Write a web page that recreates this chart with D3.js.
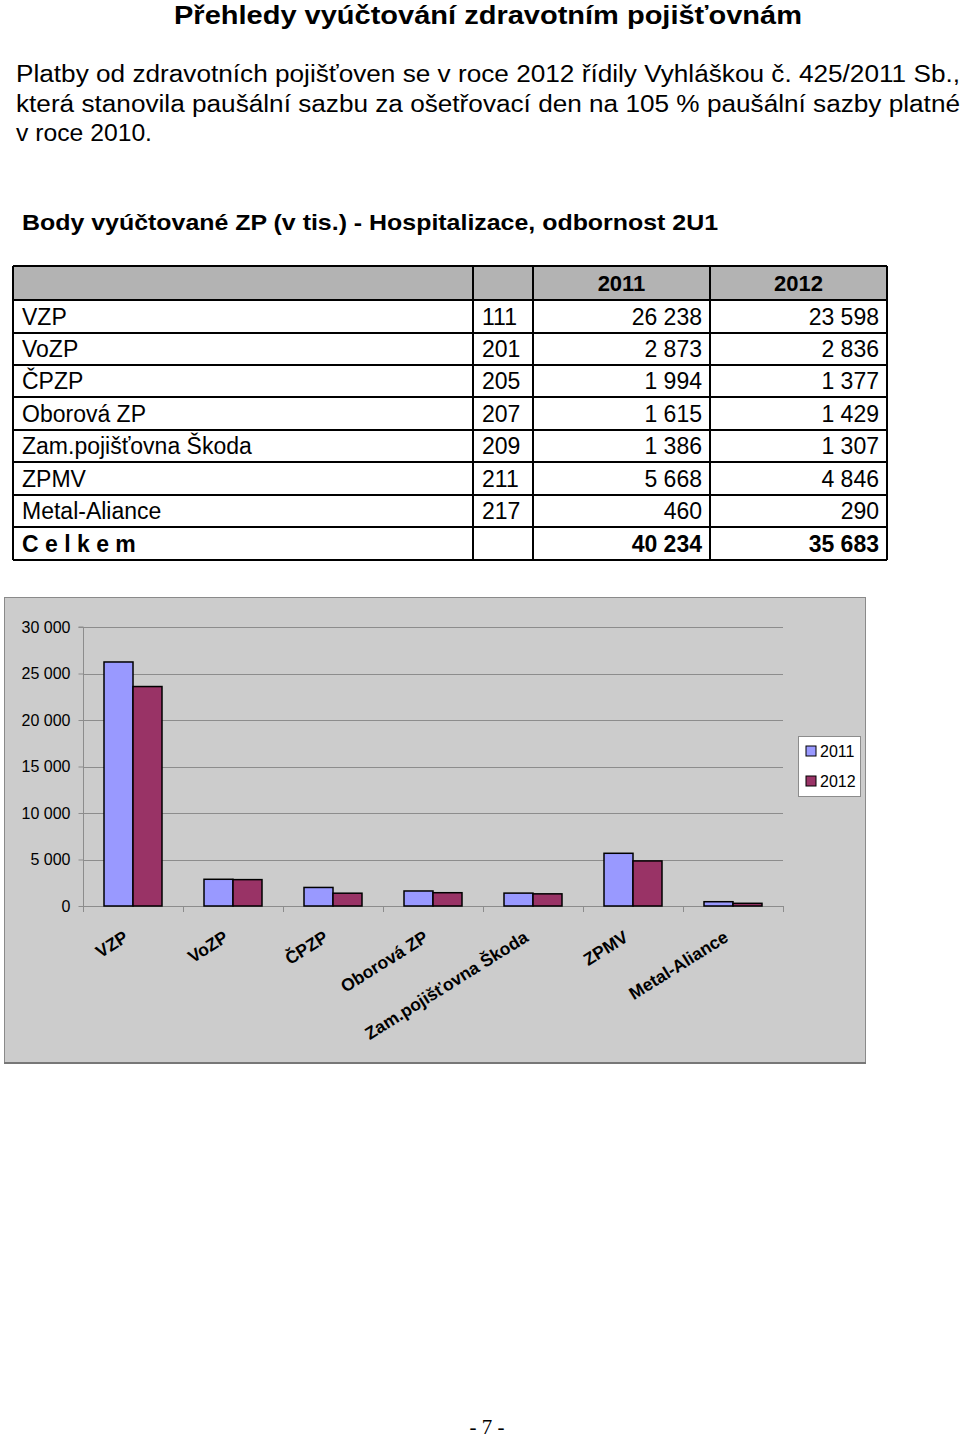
<!DOCTYPE html>
<html><head><meta charset="utf-8">
<script src="https://cdn.jsdelivr.net/npm/d3@7"></script>
<style>body{margin:0;background:#fff}svg{display:block}</style>
</head><body>
<script>
const categories = ["VZP","VoZP","ČPZP","Oborová ZP","Zam.pojišťovna Škoda","ZPMV","Metal-Aliance"];
const codes = ["111","201","205","207","209","211","217"];
const values2011 = [26238,2873,1994,1615,1386,5668,460];
const values2012 = [23598,2836,1377,1429,1307,4846,290];
const totals = [40234,35683];
const seriesNames = ["2011","2012"];
const yTicks = [0,5000,10000,15000,20000,25000,30000];
const colors = ["#9999ff","#993366"];

const W=960,H=1440,F="'Liberation Sans', Arial, sans-serif";
const svg=d3.select("body").append("svg").attr("width",W).attr("height",H).style("font-family",F);
const fmt = v => d3.format(",")(v).replace(/,/g," ");

// Title and paragraph
svg.append("text").attr("x",174).attr("y",24).attr("font-size",26).attr("font-weight","bold")
  .attr("textLength",628).attr("lengthAdjust","spacingAndGlyphs").text("Přehledy vyúčtování zdravotním pojišťovnám");
const para=[
 ["Platby od zdravotních pojišťoven se v roce 2012 řídily Vyhláškou č. 425/2011 Sb.,",82,944],
 ["která stanovila paušální sazbu za ošetřovací den na 105 % paušální sazby platné",112,944],
 ["v roce 2010.",141,136]];
para.forEach(p=>svg.append("text").attr("x",16).attr("y",p[1]).attr("font-size",23)
  .attr("textLength",p[2]).attr("lengthAdjust","spacingAndGlyphs").text(p[0]));
svg.append("text").attr("x",22).attr("y",230).attr("font-size",22).attr("font-weight","bold")
  .attr("textLength",696).attr("lengthAdjust","spacingAndGlyphs").text("Body vyúčtované ZP (v tis.) - Hospitalizace, odbornost 2U1");

// Table
const colX=[13,473,533,710,887];
const rowY=[266,300,333,365,397,430,462,495,527,560];
svg.append("rect").attr("x",colX[0]).attr("y",rowY[0]).attr("width",colX[4]-colX[0]).attr("height",rowY[1]-rowY[0]).attr("fill","#b3b3b3");
const tg=svg.append("g");
rowY.forEach(y=>tg.append("line").attr("x1",colX[0]).attr("x2",colX[4]).attr("y1",y).attr("y2",y).attr("stroke","#000").attr("stroke-width",2));
colX.forEach(x=>tg.append("line").attr("x1",x).attr("x2",x).attr("y1",rowY[0]).attr("y2",rowY[9]).attr("stroke","#000").attr("stroke-width",2));
const hdrY=(rowY[0]+rowY[1])/2+8;
seriesNames.forEach((s,i)=>tg.append("text").attr("x",(colX[i+2]+colX[i+3])/2).attr("y",hdrY)
  .attr("text-anchor","middle").attr("font-size",22).attr("font-weight","bold").text(s));
categories.forEach((c,i)=>{
  const y=(rowY[i+1]+rowY[i+2])/2+8;
  tg.append("text").attr("x",22).attr("y",y).attr("font-size",23).text(c);
  tg.append("text").attr("x",482).attr("y",y).attr("font-size",23).text(codes[i]);
  tg.append("text").attr("x",702).attr("y",y).attr("text-anchor","end").attr("font-size",23).text(fmt(values2011[i]));
  tg.append("text").attr("x",879).attr("y",y).attr("text-anchor","end").attr("font-size",23).text(fmt(values2012[i]));
});
{
  const y=(rowY[8]+rowY[9])/2+8;
  tg.append("text").attr("x",22).attr("y",y).attr("font-size",23).attr("font-weight","bold").text("C e l k e m");
  tg.append("text").attr("x",702).attr("y",y).attr("text-anchor","end").attr("font-size",23).attr("font-weight","bold").text(fmt(totals[0]));
  tg.append("text").attr("x",879).attr("y",y).attr("text-anchor","end").attr("font-size",23).attr("font-weight","bold").text(fmt(totals[1]));
}

// Chart
svg.append("rect").attr("x",4.5).attr("y",597.5).attr("width",861).attr("height",466).attr("fill","#cccccc").attr("stroke","#8a8a8a").attr("stroke-width",1);
svg.append("line").attr("x1",4).attr("x2",866).attr("y1",1063).attr("y2",1063).attr("stroke","#777").attr("stroke-width",2);
const L=83,R=783,T=627,B=906;
const y=d3.scaleLinear().domain([0,30000]).range([B,T]);
const x0=d3.scaleBand().domain(categories).range([L,R]).paddingInner(0.42).paddingOuter(0.21);
const x1=d3.scaleBand().domain(seriesNames).range([0,x0.bandwidth()]);
const step=x0.step();
// gridlines
svg.append("g").selectAll("line").data(yTicks.filter(d=>d>0)).join("line")
  .attr("x1",L).attr("x2",R).attr("y1",d=>Math.round(y(d))+0.5).attr("y2",d=>Math.round(y(d))+0.5).attr("stroke","#8c8c8c");
// y axis
const ya=svg.append("g").attr("transform",`translate(${L+0.5},0)`)
  .call(d3.axisLeft(y).tickValues(yTicks).tickFormat(fmt).tickSize(5).tickPadding(8));
ya.select(".domain").attr("stroke","#8c8c8c").attr("d",`M-5,${T}H0V${B}`);
ya.selectAll(".tick line").attr("stroke","#8c8c8c");
ya.selectAll("text").attr("font-size",16).attr("font-family",F).attr("fill","#000");
// x axis
svg.append("line").attr("x1",L).attr("x2",R).attr("y1",B+0.5).attr("y2",B+0.5).attr("stroke","#8c8c8c");
svg.append("g").selectAll("line").data(d3.range(categories.length+1)).join("line")
  .attr("x1",i=>L+i*step+0.5).attr("x2",i=>L+i*step+0.5).attr("y1",B).attr("y2",B+6).attr("stroke","#8c8c8c");
// bars
const data=categories.map((c,i)=>({c,vals:[values2011[i],values2012[i]]}));
svg.append("g").selectAll("g").data(data).join("g").attr("transform",d=>`translate(${x0(d.c)},0)`)
  .selectAll("rect").data(d=>d.vals.map((v,j)=>({v,s:seriesNames[j],j}))).join("rect")
  .attr("x",d=>x1(d.s)).attr("y",d=>y(d.v)).attr("width",x1.bandwidth()).attr("height",d=>B-y(d.v))
  .attr("fill",d=>colors[d.j]).attr("stroke","#000").attr("stroke-width",1.5);
// x labels
svg.append("g").selectAll("text").data(categories).join("text")
  .attr("transform",d=>`translate(${x0(d)+x0.bandwidth()/2-10},${B+24}) rotate(-32)`)
  .attr("text-anchor","end").attr("dy","0.7em").attr("font-size",17.5).attr("font-weight","bold").text(d=>d);
// legend
const lg=svg.append("g").attr("transform","translate(798,736)");
lg.append("rect").attr("x",0.5).attr("y",0.5).attr("width",62).attr("height",60).attr("fill","#fff").attr("stroke","#8c8c8c");
seriesNames.forEach((s,i)=>{
  lg.append("rect").attr("x",8).attr("y",10+i*30).attr("width",10).attr("height",10).attr("fill",colors[i]).attr("stroke","#000");
  lg.append("text").attr("x",22).attr("y",21+i*30).attr("font-size",16).text(s);
});

// page number
svg.append("text").attr("x",487).attr("y",1434).attr("text-anchor","middle").attr("font-size",21)
  .attr("font-family","'Liberation Serif', 'Times New Roman', serif").text("- 7 -");
</script>
</body></html>
